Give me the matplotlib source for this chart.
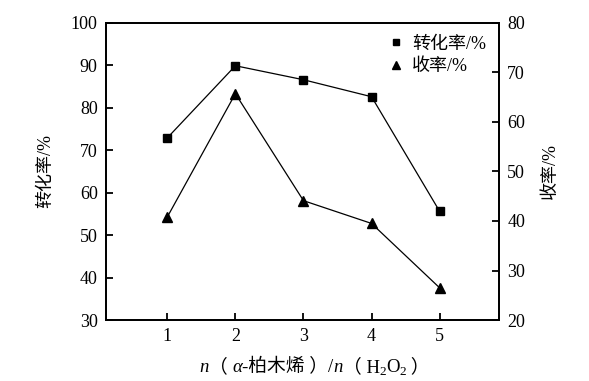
import matplotlib.pyplot as plt

plt.rcParams['font.family'] = ['Liberation Serif', 'Noto Sans CJK SC']

ratio = [1, 2, 3, 4, 5]
conversion = [72.9, 89.9, 86.6, 82.6, 55.6]   # left axis, %
yield_pct = [40.8, 65.7, 44.1, 39.5, 26.5]    # right axis, %

fig = plt.figure(figsize=(5.89, 3.81), dpi=100)
ax = fig.add_axes([0.18, 0.16, 0.667, 0.78])
ax2 = ax.twinx()

l1, = ax.plot(ratio, conversion, color='black', lw=0.9, marker='s', ms=5.5,
              label='转化率/%')
l2, = ax2.plot(ratio, yield_pct, color='black', lw=0.9, marker='^', ms=6.5,
               label='收率/%')

ax.set_xlim(0.1, 5.87)
ax.set_ylim(30, 100)
ax2.set_ylim(20, 80)
ax.set_xticks(ratio)
ax.set_yticks(range(30, 101, 10))
ax2.set_yticks(range(20, 81, 10))

for a in (ax, ax2):
    for s in a.spines.values():
        s.set_linewidth(1.3)
    a.tick_params(direction='in', length=5, width=1.3, labelsize=13, pad=6)

ax.set_ylabel('转化率/%', fontsize=13, labelpad=12)
ax2.set_ylabel('收率/%', fontsize=13, labelpad=12)

ax.legend(handles=[l1, l2], loc='upper right', frameon=False, fontsize=13,
          handlelength=0.6, handletextpad=0.6, labelspacing=0.3,
          borderaxespad=0.3, markerscale=0.85)
for h in ax.get_legend().get_lines():
    h.set_linestyle('none')

# x label: pieces with italic n / alpha and subscripts
pieces = [('n', 'italic', 0), ('（ ', 'normal', 0), ('α', 'italic', 0),
          ('-柏木烯 ）/', 'normal', 0), ('n', 'italic', 0), ('（ H', 'normal', 0),
          ('2', 'normal', 1), ('O', 'normal', 0), ('2', 'normal', 1),
          (' ）', 'normal', 0)]
fig.canvas.draw()
r = fig.canvas.get_renderer()
texts = []
for s, st, sub in pieces:
    t = fig.text(0, 0, s, fontsize=9.5 if sub else 13.5, style=st)
    texts.append((t, sub))
widths = [t.get_window_extent(r).width for t, _ in texts]
x = 0.5 * (ax.bbox.x0 + ax.bbox.x1) + 12 - sum(widths) / 2
y = 9
for (t, sub), w in zip(texts, widths):
    t.set_transform(None)
    t.set_position((x, y - 3 if sub else y))
    x += w

fig.savefig('out.png', dpi=100)
